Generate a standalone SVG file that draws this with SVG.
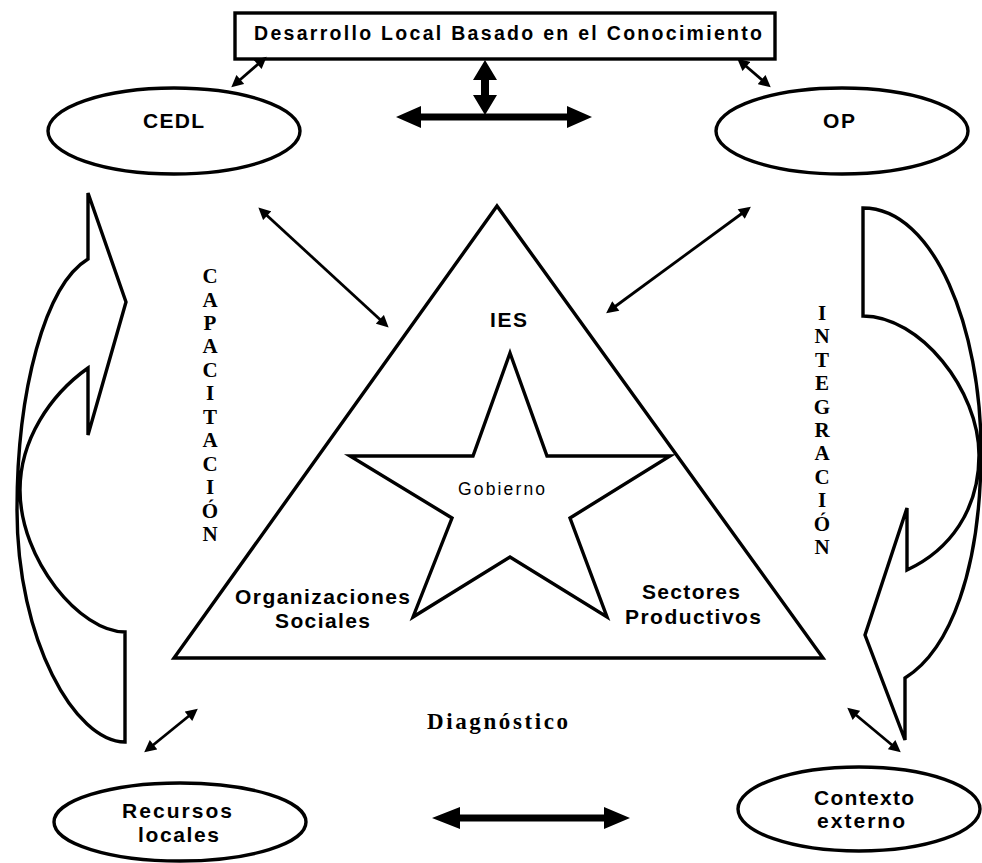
<svg xmlns="http://www.w3.org/2000/svg" width="982" height="863" viewBox="0 0 982 863">
<defs>
<marker id="ah" viewBox="0 0 10 10" refX="7" refY="5" markerWidth="13" markerHeight="12" markerUnits="userSpaceOnUse" orient="auto-start-reverse">
<path d="M0,0 L10,5 L0,10 z" fill="#000"/>
</marker>
</defs>
<style>
.sh{fill:#fff;stroke:#000;stroke-width:3.4;stroke-linejoin:miter}
.ln{stroke:#000;stroke-width:2.8;fill:none;marker-start:url(#ah);marker-end:url(#ah)}
.thick{fill:#000;stroke:none}
.sb{font-family:"Liberation Sans",Arial,sans-serif;font-weight:bold;fill:#000}
.sr{font-family:"Liberation Sans",Arial,sans-serif;fill:#000}
.vb{font-family:"Liberation Serif","Times New Roman",serif;font-weight:bold;font-size:21px;fill:#000;text-anchor:middle}
</style>
<rect width="982" height="863" fill="#fff"/>

<g id="title">
<rect x="235" y="13" width="540" height="46" class="sh"/>
<text class="sb" x="254" y="40" font-size="19.5" textLength="508" lengthAdjust="spacing">Desarrollo Local Basado en el Conocimiento</text>
</g>

<g id="cedl">
<ellipse cx="174" cy="131" rx="126" ry="43" class="sh"/>
<text class="sb" x="143" y="128" font-size="21" textLength="61" lengthAdjust="spacing">CEDL</text>
</g>

<g id="op">
<ellipse cx="842" cy="131" rx="126" ry="43" class="sh"/>
<text class="sb" x="823" y="128" font-size="21" textLength="32" lengthAdjust="spacing">OP</text>
</g>

<g id="capacitacion-arrow">
<path class="sh" d="M88,259 L88,193 L126,302 L88,435 L88,368 C50,395 20,440 20,490 C20,560 80,632 125,632 L125,742 C75,742 17,640 17,510 C17,390 45,285 88,259 Z"/>
</g>

<g id="integracion-arrow">
<path class="sh" d="M863,208 C935,208 981,330 981,450 C981,570 950,650 905,678 L905,740 L865,635 L907,508 L907,570 C950,550 979,510 979,455 C979,390 920,316 863,316 Z"/>
</g>

<g id="triangle">
<polygon class="sh" points="497,206 823,658 174,658"/>
<text class="sb" x="490" y="327" font-size="21" textLength="37" lengthAdjust="spacing">IES</text>
<text class="sb" x="235" y="604" font-size="21" textLength="175" lengthAdjust="spacing">Organizaciones</text>
<text class="sb" x="275" y="628" font-size="21" textLength="95" lengthAdjust="spacing">Sociales</text>
<text class="sb" x="642" y="599" font-size="21" textLength="98" lengthAdjust="spacing">Sectores</text>
<text class="sb" x="625" y="624" font-size="21" textLength="136" lengthAdjust="spacing">Productivos</text>
</g>

<g id="gobierno">
<polygon class="sh" points="510,353 547,456 670,456 570,518 607,617 510,557 413,617 452,518 350,456 473,456"/>
<text class="sr" x="458" y="495" font-size="17.5" textLength="87" lengthAdjust="spacing">Gobierno</text>
</g>

<g id="capacitacion-label">
<text class="vb" x="210" y="283">C</text>
<text class="vb" x="210" y="306.5">A</text>
<text class="vb" x="210" y="330">P</text>
<text class="vb" x="210" y="353.4">A</text>
<text class="vb" x="210" y="376.8">C</text>
<text class="vb" x="210" y="400.3">I</text>
<text class="vb" x="210" y="423.7">T</text>
<text class="vb" x="210" y="447.2">A</text>
<text class="vb" x="210" y="470.6">C</text>
<text class="vb" x="210" y="494">I</text>
<text class="vb" x="210" y="517.5">Ó</text>
<text class="vb" x="210" y="541">N</text>
</g>

<g id="integracion-label">
<text class="vb" x="822" y="320">I</text>
<text class="vb" x="822" y="343.4">N</text>
<text class="vb" x="822" y="366.8">T</text>
<text class="vb" x="822" y="390.2">E</text>
<text class="vb" x="822" y="413.6">G</text>
<text class="vb" x="822" y="437">R</text>
<text class="vb" x="822" y="460.4">A</text>
<text class="vb" x="822" y="483.8">C</text>
<text class="vb" x="822" y="507.2">I</text>
<text class="vb" x="822" y="530.6">Ó</text>
<text class="vb" x="822" y="554">N</text>
</g>

<g id="diagnostico">
<text font-family="'Liberation Serif','Times New Roman',serif" font-weight="bold" font-size="23" x="427" y="729" textLength="141" lengthAdjust="spacing">Diagnóstico</text>
</g>

<g id="recursos">
<ellipse cx="180" cy="822" rx="126" ry="39" class="sh"/>
<text class="sb" x="122" y="818" font-size="21" textLength="110" lengthAdjust="spacing">Recursos</text>
<text class="sb" x="138" y="842" font-size="21" textLength="81" lengthAdjust="spacing">locales</text>
</g>

<g id="contexto">
<ellipse cx="859" cy="809" rx="121" ry="42" class="sh"/>
<text class="sb" x="814" y="805" font-size="21" textLength="100" lengthAdjust="spacing">Contexto</text>
<text class="sb" x="817" y="828" font-size="21" textLength="88" lengthAdjust="spacing">externo</text>
</g>

<g id="connectors">
<line class="ln" x1="264" y1="59" x2="234" y2="85"/>
<line class="ln" x1="740" y1="61" x2="768" y2="85"/>
<line class="ln" x1="261" y1="210" x2="386" y2="325"/>
<line class="ln" x1="748" y1="209" x2="609" y2="311"/>
<line class="ln" x1="195" y1="711" x2="147" y2="750"/>
<line class="ln" x1="850" y1="710" x2="898" y2="750"/>
<polygon class="thick" points="485,60 497,80 489,80 489,95 497,95 485,115 473,95 481,95 481,80 473,80"/>
<polygon class="thick" points="396,117 421,106 421,113.5 567,113.5 567,106 592,117 567,128 567,120.5 421,120.5 421,128"/>
<polygon class="thick" points="432,818 460,807 460,814.5 604,814.5 604,807 630,818 604,829 604,821.5 460,821.5 460,829"/>
</g>
</svg>
